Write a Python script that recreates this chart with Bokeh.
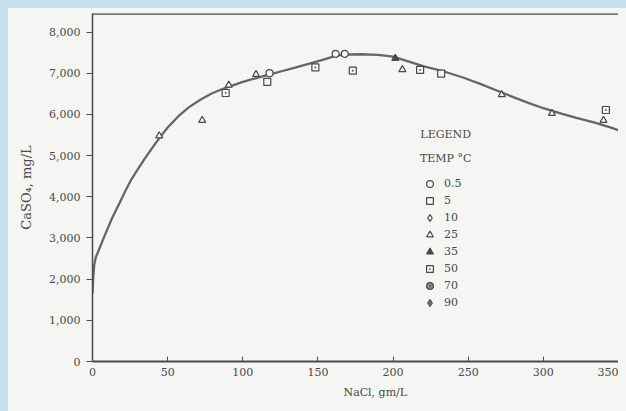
from bokeh.plotting import figure
from bokeh.models import (Range1d, FixedTicker, NumeralTickFormatter, Label, Span,
                          Legend, LegendItem, Title)
from bokeh.embed import file_html
from bokeh.resources import INLINE

NAN = float("nan")

# ---------------- data ----------------
# fitted solubility curve: NaCl (g/L) -> CaSO4 (mg/L)
curve_nacl = [0, 0.5, 1.2, 2.1, 5, 8, 13, 18, 22, 26, 30, 35, 40, 44, 50, 57, 64, 72,
              79, 86, 93, 100, 107, 115, 120, 127, 133, 139, 145, 152, 158, 162, 170,
              179, 190, 200, 209, 220, 235, 247, 258, 269, 280, 290, 300, 312, 322,
              333, 344, 354]
curve_caso4 = [1645, 2050, 2350, 2520, 2780, 3050, 3480, 3850, 4150, 4430, 4660, 4940,
               5200, 5400, 5680, 5950, 6170, 6360, 6500, 6610, 6700, 6790, 6860, 6940,
               6990, 7060, 7120, 7180, 7240, 7310, 7380, 7425, 7455, 7460, 7445, 7405,
               7300, 7170, 7030, 6890, 6740, 6580, 6420, 6280, 6150, 6020, 5915, 5810,
               5690, 5570]

# measured points per temperature (deg C); NaN = no point visible for that series
t05_nacl = [117.8, 161.8, 167.9]
t05_caso4 = [7000, 7472, 7472]
t5_nacl = [116.3, 232.0]
t5_caso4 = [6790, 6992]
t10_nacl = [NAN]
t10_caso4 = [NAN]
t25_nacl = [44.4, 73.0, 90.7, 108.8, 206.2, 272.3, 305.7, 340.0, 352.6]
t25_caso4 = [5480, 5856, 6712, 6970, 7087, 6479, 6025, 5856, 5690]
t35_nacl = [201.5]
t35_caso4 = [7360]
t50_nacl = [88.6, 148.3, 173.2, 218.0, 341.6]
t50_caso4 = [6520, 7140, 7062, 7080, 6107]
t70_nacl = [NAN]
t70_caso4 = [NAN]
t90_nacl = [NAN]
t90_caso4 = [NAN]

temp_labels = ["0.5", "5", "10", "25", "35", "50", "70", "90"]
x_ticks = [0, 50, 100, 150, 200, 250, 300, 350]
y_ticks = [0, 1000, 2000, 3000, 4000, 5000, 6000, 7000, 8000]

# ---------------- styling ----------------
INK = "#4a4a4a"
TXT = "#484848"
BG = "#f5f6f3"
FONT = "DejaVu Serif"

p = figure(width=610, height=395, output_backend="svg", toolbar_location=None,
           x_range=Range1d(0, 350), y_range=Range1d(0, 8450),
           min_border_left=84, min_border_right=0, min_border_top=5,
           min_border_bottom=41)
p.background_fill_color = BG
p.border_fill_color = BG
p.outline_line_color = None
p.grid.visible = False

# axes
xa = p.xaxis[0]
xa.ticker = FixedTicker(ticks=x_ticks)
xa.major_tick_in = 5
xa.major_tick_out = 0
xa.minor_tick_line_color = None
xa.axis_line_width = 2
xa.axis_line_color = INK
xa.major_tick_line_color = INK
xa.major_label_text_font = FONT
xa.major_label_text_font_size = "11px"
xa.major_label_text_color = TXT
xa.major_label_standoff = 6

ya = p.yaxis[0]
ya.ticker = FixedTicker(ticks=y_ticks)
ya.formatter = NumeralTickFormatter(format="0,0")
ya.major_tick_in = 0
ya.major_tick_out = 6
ya.minor_tick_line_color = None
ya.axis_line_width = 1.5
ya.axis_line_color = INK
ya.major_tick_line_color = INK
ya.major_label_text_font = FONT
ya.major_label_text_font_size = "11px"
ya.major_label_text_color = TXT
ya.major_label_standoff = 6
ya.axis_label = "CaSO\u2084, mg/L"
ya.axis_label_text_font = FONT
ya.axis_label_text_font_size = "13px"
ya.axis_label_text_font_style = "normal"
ya.axis_label_text_color = TXT
ya.axis_label_standoff = 12

# x axis title, placed off-centre as in the original
p.add_layout(Title(text="NaCl, gm/L", align="left", offset=251, standoff=10,
                   text_font=FONT, text_font_size="11px", text_font_style="normal",
                   text_color=TXT), "below")

# top frame line
p.add_layout(Span(location=8450, dimension="width", line_color=INK, line_width=2.5))

# curve
p.line(curve_nacl, curve_caso4, line_color="#666666", line_width=2.3)

# points
common = dict(size=7, line_color=INK, line_width=1.2)
r05 = p.scatter(t05_nacl, t05_caso4, marker="circle", fill_color=BG, **common)
r5 = p.scatter(t5_nacl, t5_caso4, marker="square", fill_color=BG, **common)
r10 = p.scatter(t10_nacl, t10_caso4, marker="diamond", fill_color=BG, **common)
r25 = p.scatter(t25_nacl, t25_caso4, marker="triangle", fill_color=BG, **common)
r35 = p.scatter(t35_nacl, t35_caso4, marker="triangle", fill_color=INK, **common)
r50 = p.scatter(t50_nacl, t50_caso4, marker="square_dot", fill_color=BG, **common)
r70 = p.scatter(t70_nacl, t70_caso4, marker="circle_dot", fill_color="#8a8a8a", **common)
r90 = p.scatter(t90_nacl, t90_caso4, marker="diamond_dot", fill_color="#9a9a9a", **common)

renderers = [r05, r5, r10, r25, r35, r50, r70, r90]
legend = Legend(items=[LegendItem(label=t, renderers=[r]) for t, r in zip(temp_labels, renderers)],
                location=(329, 50), orientation="vertical",
                glyph_width=17, glyph_height=17, label_height=17, spacing=0,
                padding=0, margin=0, label_standoff=6,
                background_fill_alpha=0, border_line_color=None,
                label_text_font=FONT, label_text_font_size="11px",
                label_text_color=TXT)
p.add_layout(legend)

# legend heading texts
p.add_layout(Label(x=235, y=5520, text="LEGEND", text_font=FONT,
                   text_font_size="11px", text_color=TXT,
                   text_align="center", text_baseline="middle"))
p.add_layout(Label(x=235, y=4940, text="TEMP \u00b0C", text_font=FONT,
                   text_font_size="11px", text_color=TXT,
                   text_align="center", text_baseline="middle"))

css = ("<style>html{background:#c3e2ee;overflow:hidden}"
       "body{background:#f5f6f3;margin:8px 0 0 8px !important;"
       "min-height:calc(100vh - 8px)}</style></head>")
open("out.html", "w").write(file_html(p, INLINE).replace("</head>", css, 1))
